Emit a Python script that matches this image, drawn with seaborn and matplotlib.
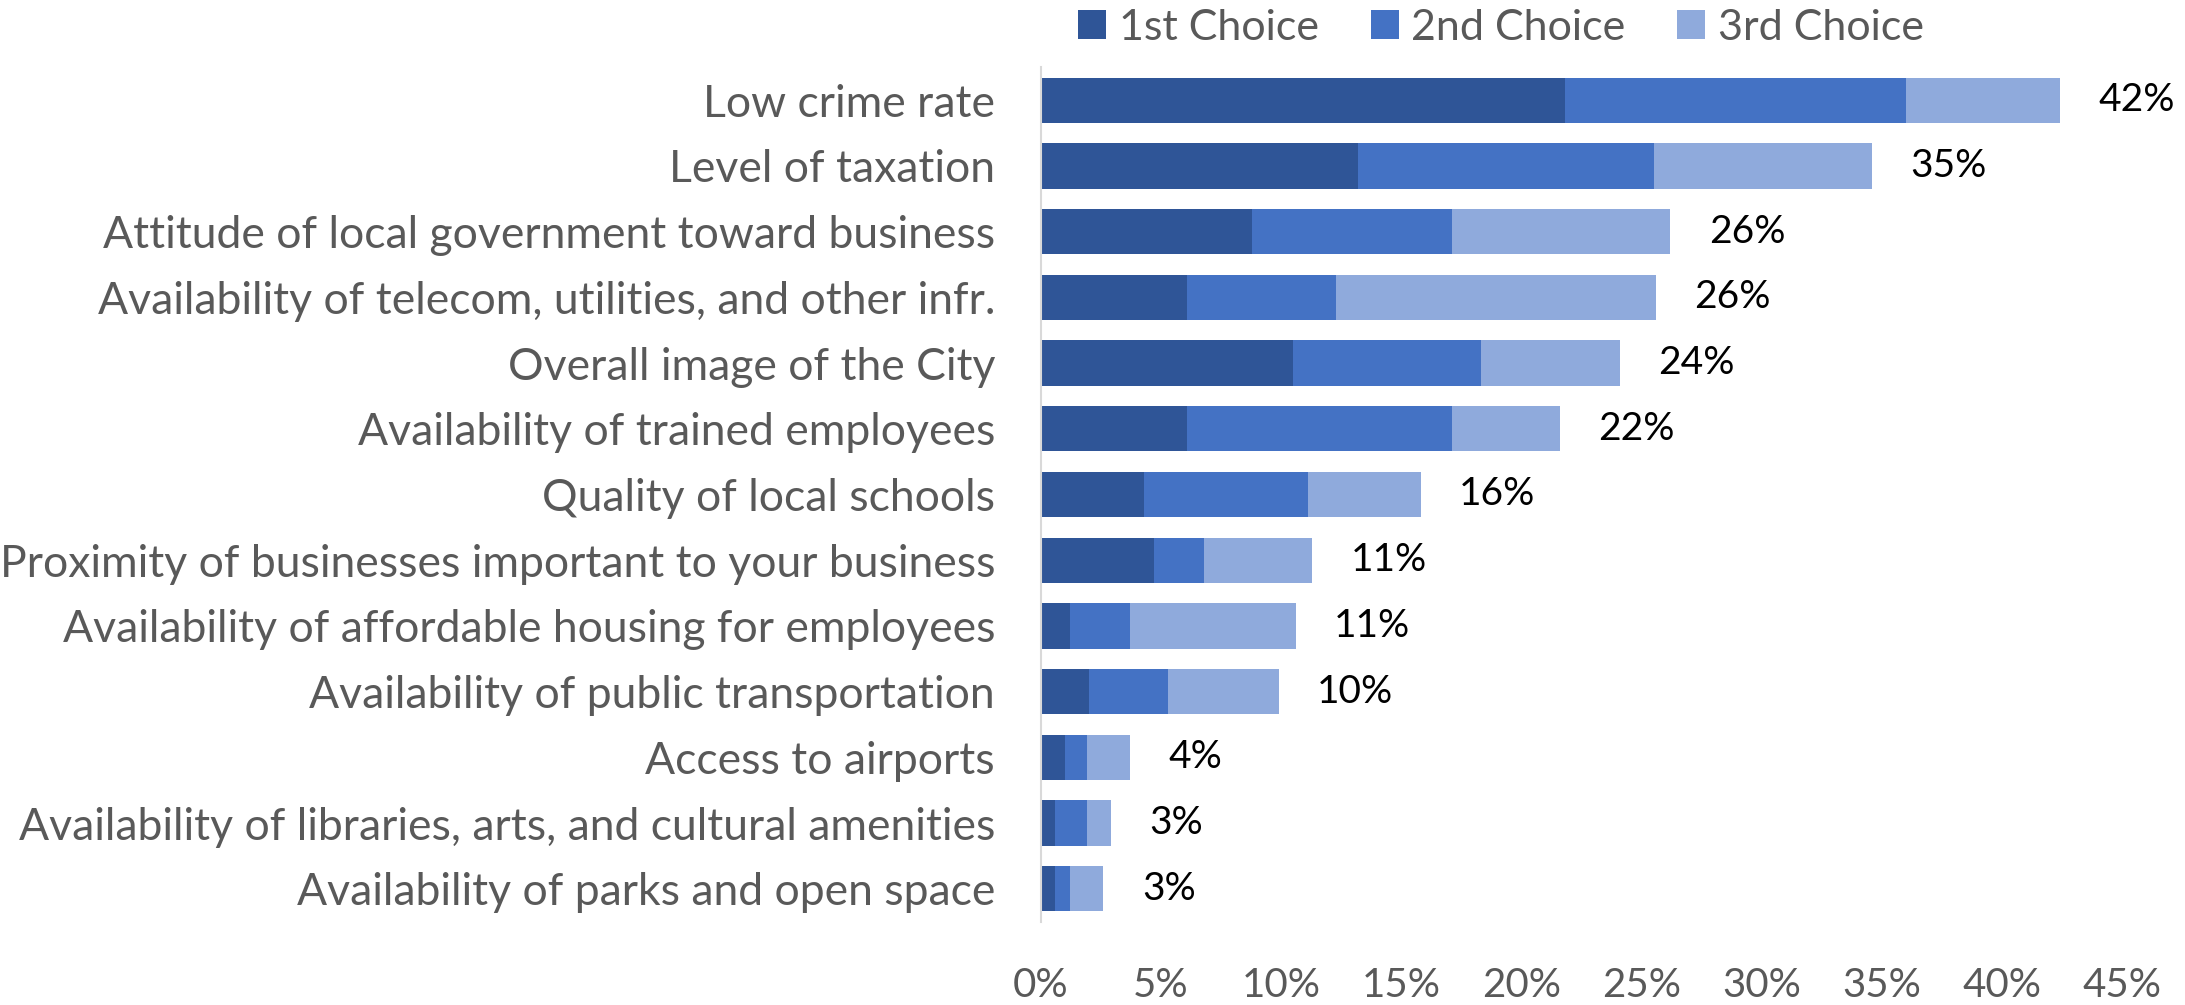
import numpy as np
import pandas as pd
import matplotlib
matplotlib.use("Agg")
import matplotlib.pyplot as plt
import seaborn as sns

# Data (percent of respondents), top to bottom
factors = [
    "Low crime rate",
    "Level of taxation",
    "Attitude of local government toward business",
    "Availability of telecom, utilities, and other infr.",
    "Overall image of the City",
    "Availability of trained employees",
    "Quality of local schools",
    "Proximity of businesses important to your business",
    "Availability of affordable housing for employees",
    "Availability of public transportation",
    "Access to airports",
    "Availability of libraries, arts, and cultural amenities",
    "Availability of parks and open space",
]
first_choice = [21.8, 13.2, 8.8, 6.1, 10.5, 6.1, 4.3, 4.7, 1.2, 2.0, 1.0, 0.6, 0.6]
second_choice = [14.2, 12.3, 8.3, 6.2, 7.8, 11.0, 6.8, 2.1, 2.5, 3.3, 0.9, 1.3, 0.6]
third_choice = [6.4, 9.1, 9.1, 13.3, 5.8, 4.5, 4.7, 4.5, 6.9, 4.6, 1.8, 1.0, 1.4]
series_names = ["1st Choice", "2nd Choice", "3rd Choice"]
colors = ["#2F5597", "#4472C4", "#8FAADC"]

df = pd.DataFrame({
    "factor": factors,
    "c1": first_choice,
    "c2": second_choice,
    "c3": third_choice,
})
df["cum1"] = df["c1"]
df["cum2"] = df["c1"] + df["c2"]
df["cum3"] = df["cum2"] + df["c3"]

sns.set_theme(style="white")
plt.rcParams["font.family"] = ["Lato", "DejaVu Sans"]

fig = plt.figure(figsize=(21.85, 10.05), dpi=100)
ax = fig.add_axes([0.4764, 0.083, 0.4948, 0.850])

# stacked bars: draw cumulative totals from largest to smallest
for col, c, name in zip(["cum3", "cum2", "cum1"], colors[::-1], series_names[::-1]):
    sns.barplot(data=df, x=col, y="factor", color=c, width=0.69,
                orient="h", ax=ax, label=name, linewidth=0, saturation=1)

for i, tot in enumerate(df["cum3"]):
    ax.text(tot + 1.6, i, f"{tot:.0f}%", va="center", ha="left",
            fontsize=28, color="black")

ax.set_xlim(0, 45)
ax.set_xticks(np.arange(0, 46, 5))
ax.set_xticklabels([f"{v}%" for v in range(0, 46, 5)])
ax.set_xlabel("")
ax.set_ylabel("")
ax.tick_params(axis="x", length=0, pad=33, labelsize=29, labelcolor="#595959")
ax.tick_params(axis="y", length=0, pad=33, labelsize=32, labelcolor="#595959")
for s in ["top", "right", "bottom"]:
    ax.spines[s].set_visible(False)
ax.spines["left"].set_color("#D9D9D9")
ax.spines["left"].set_linewidth(1.5)

handles, labels = ax.get_legend_handles_labels()
order = [labels.index(n) for n in series_names]
fig.legend([handles[k] for k in order], series_names, loc="upper center",
           bbox_to_anchor=(0.687, 1.03), ncol=3, frameon=False, fontsize=31,
           labelcolor="#595959", handlelength=0.65, handleheight=0.65,
           handletextpad=0.3, columnspacing=1.2)
if ax.get_legend():
    ax.get_legend().remove()

fig.savefig("out.png", dpi=100)
